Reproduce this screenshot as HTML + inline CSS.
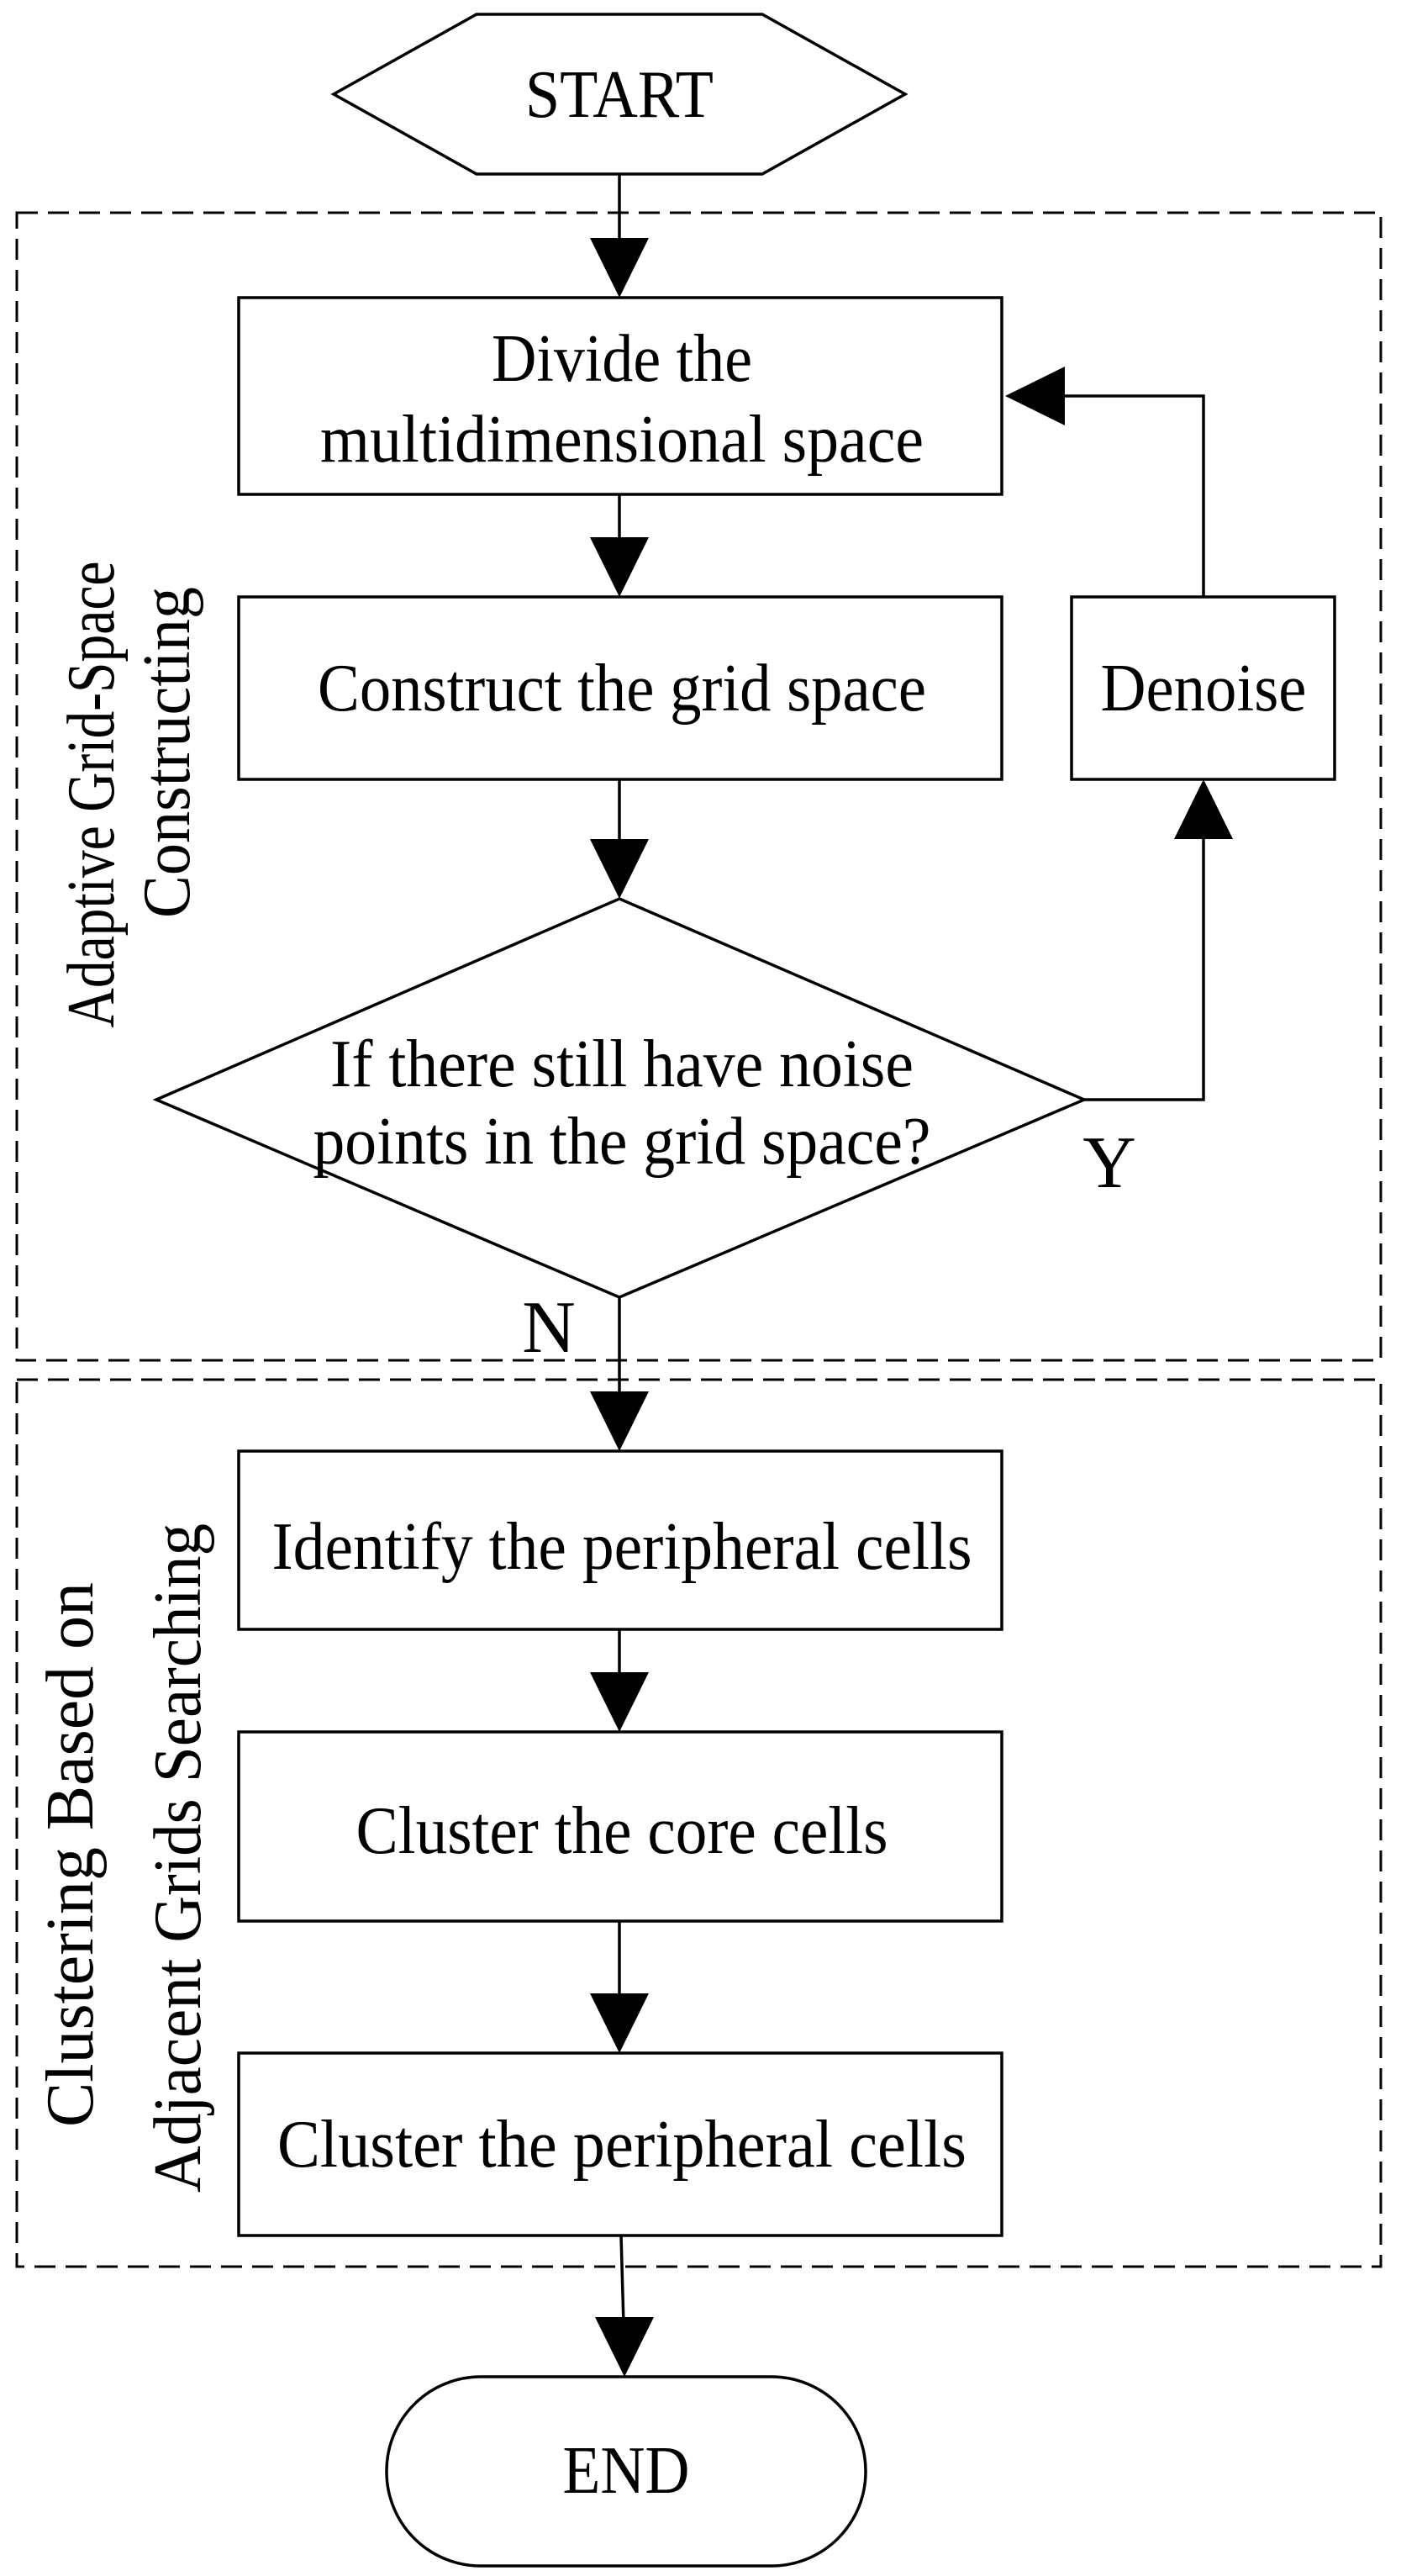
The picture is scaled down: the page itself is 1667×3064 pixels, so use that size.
<!DOCTYPE html>
<html><head><meta charset="utf-8"><style>html,body{margin:0;padding:0;background:#fff}svg{display:block}</style></head>
<body>
<svg width="1667" height="3064" viewBox="0 0 1667 3064" xmlns="http://www.w3.org/2000/svg" font-family="Liberation Serif, serif" fill="#000">
<g fill="none" stroke="#000" stroke-width="3.5">
<polygon points="397,112 567,17 907,17 1077,112 907,207 567,207"/>
<rect x="20" y="253" width="1623" height="1365" stroke-dasharray="25,12" stroke-width="3"/>
<rect x="20" y="1641" width="1623" height="1055" stroke-dasharray="25,12" stroke-width="3"/>
<rect x="284" y="354" width="908" height="234"/>
<rect x="284" y="710" width="908" height="217"/>
<rect x="1275" y="710" width="313" height="217"/>
<polygon points="737,1069 1290,1308 737,1543 186,1308"/>
<rect x="284" y="1726" width="908" height="212"/>
<rect x="284" y="2060" width="908" height="225"/>
<rect x="284" y="2442" width="908" height="217"/>
<rect x="460" y="2827" width="570" height="225" rx="112" ry="112"/>
<line x1="737" y1="207" x2="737" y2="290"/>
<line x1="737" y1="588" x2="737" y2="645"/>
<line x1="737" y1="927" x2="737" y2="1005"/>
<polyline points="1290,1308 1432,1308 1432,995"/>
<polyline points="1432,710 1432,471 1260,471"/>
<line x1="737" y1="1543" x2="737" y2="1660"/>
<line x1="737" y1="1938" x2="737" y2="2000"/>
<line x1="737" y1="2285" x2="737" y2="2380"/>
<line x1="739" y1="2659" x2="742" y2="2765"/>
</g>
<g stroke="none">
<polygon points="702,283 772,283 737,354"/>
<polygon points="702,639 772,639 737,710"/>
<polygon points="702,998 772,998 737,1069"/>
<polygon points="1397,998 1467,998 1432,927"/>
<polygon points="1267,436 1267,506 1196,471"/>
<polygon points="702,1655 772,1655 737,1726"/>
<polygon points="702,1989 772,1989 737,2060"/>
<polygon points="702,2371 772,2371 737,2442"/>
<polygon points="708,2756 778,2756 743,2827"/>
</g>
<g font-size="80" text-anchor="middle">
<text x="737" y="139" textLength="224" lengthAdjust="spacingAndGlyphs">START</text>
<text x="740" y="453" textLength="310" lengthAdjust="spacingAndGlyphs">Divide the</text>
<text x="740" y="549" textLength="718" lengthAdjust="spacingAndGlyphs">multidimensional space</text>
<text x="740" y="845" textLength="724" lengthAdjust="spacingAndGlyphs">Construct the grid space</text>
<text x="1432" y="845" textLength="245" lengthAdjust="spacingAndGlyphs">Denoise</text>
<text x="740" y="1292" textLength="694" lengthAdjust="spacingAndGlyphs">If there still have noise</text>
<text x="740" y="1384" textLength="735" lengthAdjust="spacingAndGlyphs">points in the grid space?</text>
<text x="740" y="1866" textLength="833" lengthAdjust="spacingAndGlyphs">Identify the peripheral cells</text>
<text x="740" y="2204" textLength="633" lengthAdjust="spacingAndGlyphs">Cluster the core cells</text>
<text x="740" y="2577" textLength="820" lengthAdjust="spacingAndGlyphs">Cluster the peripheral cells</text>
<text x="745" y="2965" textLength="151" lengthAdjust="spacingAndGlyphs">END</text>
<text x="1320" y="1412" font-size="88">Y</text>
<text x="653" y="1608" font-size="88">N</text>
<text transform="translate(135,945) rotate(-90)" textLength="555" lengthAdjust="spacingAndGlyphs">Adaptive Grid-Space</text>
<text transform="translate(225,895) rotate(-90)" textLength="394" lengthAdjust="spacingAndGlyphs">Constructing</text>
<text transform="translate(110,2206) rotate(-90)" textLength="648" lengthAdjust="spacingAndGlyphs">Clustering  Based on</text>
<text transform="translate(238,2210) rotate(-90)" textLength="796" lengthAdjust="spacingAndGlyphs">Adjacent Grids Searching</text>
</g>
</svg>
</body></html>
